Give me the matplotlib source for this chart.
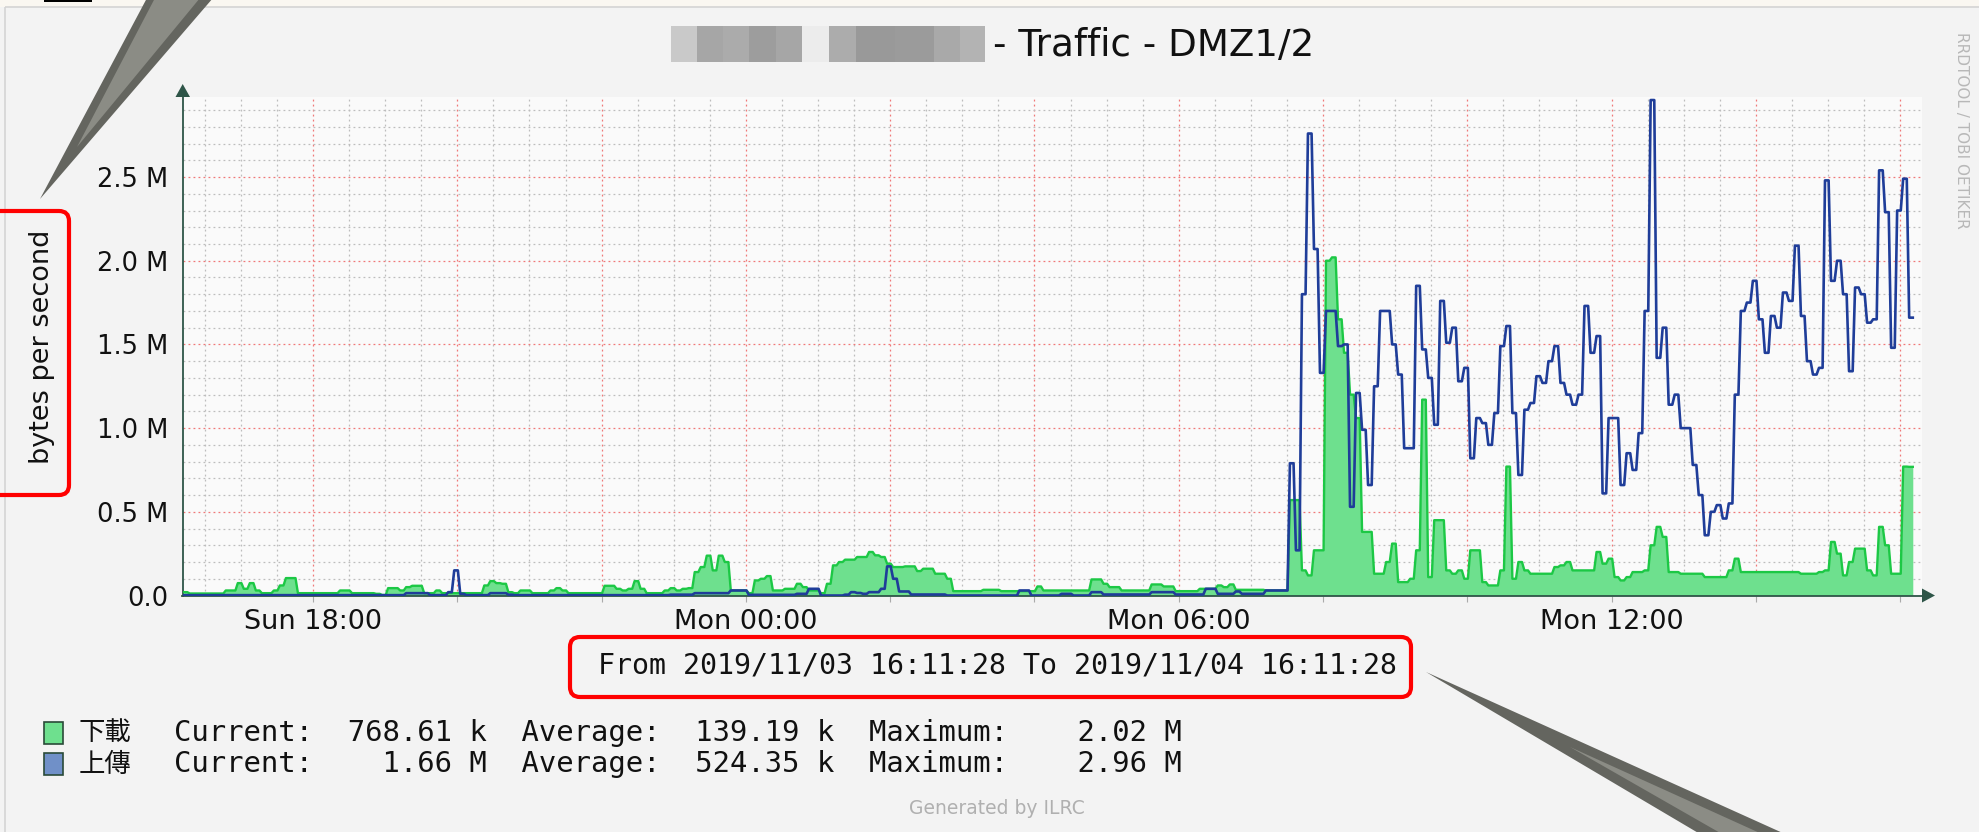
import numpy as np
import matplotlib
matplotlib.use('Agg')
import matplotlib.pyplot as plt
import matplotlib.dates as mdates
from matplotlib.ticker import MultipleLocator, FuncFormatter
from matplotlib.patches import Rectangle, Polygon, FancyBboxPatch

W, H = 1979, 832

# 5 minute samples, 2019/11/03 16:11:28 -> 2019/11/04 16:11:28, in kB/s
start = np.datetime64('2019-11-03T16:11:28')
step = np.timedelta64(300, 's')

download_k = [
    20, 12, 12, 12, 12, 12, 12, 30, 30, 74, 40, 74,
    30, 14, 14, 30, 60, 104, 104, 14, 14, 14, 14, 14,
    14, 14, 30, 30, 14, 14, 14, 14, 10, 3, 44, 44,
    30, 50, 58, 58, 14, 14, 30, 14, 14, 14, 14, 14,
    14, 14, 60, 86, 74, 70, 20, 14, 30, 30, 14, 14,
    14, 30, 44, 30, 14, 14, 14, 14, 14, 14, 58, 58,
    40, 30, 40, 86, 40, 14, 14, 14, 30, 44, 30, 40,
    44, 140, 170, 238, 150, 238, 200, 30, 30, 30, 14, 90,
    100, 116, 30, 30, 40, 40, 70, 50, 30, 30, 14, 70,
    180, 200, 214, 214, 230, 230, 260, 240, 230, 190, 170, 170,
    174, 174, 146, 160, 160, 130, 130, 100, 26, 26, 26, 26,
    26, 34, 34, 34, 26, 26, 26, 26, 26, 26, 54, 30,
    30, 30, 30, 30, 30, 30, 30, 96, 96, 70, 50, 50,
    30, 30, 30, 30, 30, 66, 66, 54, 54, 26, 26, 26,
    26, 40, 40, 40, 60, 50, 66, 34, 34, 34, 34, 34,
    30, 30, 30, 30, 570, 570, 150, 120, 270, 270, 2000, 2020,
    1650, 1450, 1200, 1060, 380, 380, 130, 130, 200, 310, 80, 80,
    100, 270, 1170, 110, 450, 450, 150, 130, 150, 100, 270, 270,
    80, 60, 60, 150, 770, 100, 200, 150, 130, 130, 130, 130,
    170, 180, 200, 150, 150, 150, 150, 260, 190, 220, 110, 90,
    110, 140, 140, 150, 300, 410, 350, 140, 140, 130, 130, 130,
    130, 110, 110, 110, 110, 150, 220, 140, 140, 140, 140, 140,
    140, 140, 140, 140, 140, 130, 130, 130, 140, 150, 320, 250,
    120, 200, 280, 280, 150, 120, 410, 300, 130, 130, 770, 768.61,
]
upload_k = [
    2, 2, 2, 2, 2, 2, 2, 2, 2, 2, 2, 2,
    2, 2, 2, 2, 2, 2, 2, 2, 2, 2, 2, 2,
    2, 2, 2, 2, 2, 2, 2, 2, 2, 2, 2, 2,
    2, 14, 14, 14, 14, 2, 2, 2, 20, 150, 10, 2,
    2, 2, 2, 14, 14, 14, 5, 2, 2, 2, 2, 2,
    2, 2, 2, 2, 2, 2, 2, 2, 2, 2, 2, 2,
    2, 2, 2, 2, 2, 2, 2, 2, 2, 5, 5, 5,
    5, 14, 14, 14, 14, 14, 14, 30, 30, 30, 4, 4,
    4, 4, 4, 4, 4, 4, 10, 10, 40, 40, 0, 0,
    0, 0, 5, 20, 15, 10, 20, 20, 40, 174, 100, 24,
    24, 6, 6, 6, 6, 6, 6, 0, 0, 0, 0, 0,
    0, 0, 0, 0, 0, 0, 0, 30, 30, 0, 0, 0,
    0, 0, 10, 10, 0, 0, 0, 20, 20, 6, 6, 6,
    6, 6, 6, 6, 6, 20, 20, 20, 20, 6, 6, 6,
    6, 6, 40, 40, 10, 10, 10, 24, 10, 10, 10, 10,
    30, 30, 30, 30, 790, 270, 1800, 2760, 2070, 1330, 1700, 1700,
    1490, 1500, 530, 1210, 990, 660, 1250, 1700, 1700, 1500, 1320, 880,
    880, 1850, 1470, 1300, 1020, 1760, 1510, 1600, 1280, 1360, 820, 1060,
    1030, 900, 1090, 1490, 1610, 1090, 720, 1110, 1150, 1310, 1270, 1400,
    1490, 1270, 1200, 1140, 1200, 1730, 1450, 1550, 610, 1060, 1060, 660,
    850, 750, 970, 1700, 2960, 1420, 1600, 1140, 1200, 1000, 1000, 780,
    600, 360, 500, 540, 460, 550, 1200, 1700, 1750, 1880, 1650, 1450,
    1670, 1600, 1810, 1760, 2090, 1670, 1400, 1320, 1360, 2480, 1880, 2000,
    1800, 1340, 1840, 1800, 1630, 1650, 2540, 2290, 1480, 2300, 2490, 1660,
]

title = '- Traffic - DMZ1/2'
ylabel = 'bytes per second'
period = 'From 2019/11/03 16:11:28 To 2019/11/04 16:11:28'
legend_names = ['下載', '上傳']
legend_stats = ['Current:  768.61 k  Average:  139.19 k  Maximum:    2.02 M',
                'Current:    1.66 M  Average:  524.35 k  Maximum:    2.96 M']
legend_fill = ['#6ee08e', '#7090c8']
credit = 'RRDTOOL / TOBI OETIKER'
footer = 'Generated by ILRC'

down = np.array(download_k) * 1000.0
up = np.array(upload_k) * 1000.0
# each 5 min sample is drawn as a short flat segment, like rrdtool does
bins = start + step * np.arange(len(down))
seg = np.array([np.timedelta64(60, 's'), np.timedelta64(240, 's')])
times = (bins[:, None] + seg[None, :]).ravel()
down2 = np.repeat(down, 2)
up2 = np.repeat(up, 2)

fig = plt.figure(figsize=(W / 100, H / 100), dpi=100)
fig.patch.set_facecolor('#f3f3f3')

# plot area in pixel positions of the reference
x0, x1, ytop, ybot = 182.5, 1922, 96.7, 595.5
ax = fig.add_axes([x0 / W, 1 - ybot / H, (x1 - x0) / W, (ybot - ytop) / H])
ax.set_facecolor('#fafafa')

ax.fill_between(times, 0, down2, color='#6ee08e', lw=0, zorder=2)
ax.plot(times, down2, color='#1cc845', lw=1.7, zorder=3)
ax.plot(times, up2, color='#1f3d99', lw=1.9, zorder=4)

ax.set_xlim(start, start + np.timedelta64(86400 + 400, 's'))
ax.set_ylim(0, 2.98e6)

ax.xaxis.set_major_locator(mdates.HourLocator(byhour=range(0, 24, 2)))
ax.xaxis.set_minor_locator(mdates.MinuteLocator(byminute=[0, 30]))

def xfmt(x, pos):
    d = mdates.num2date(x)
    return d.strftime('%a %H:%M') if d.hour % 6 == 0 else ''

ax.xaxis.set_major_formatter(FuncFormatter(xfmt))
ax.yaxis.set_major_locator(MultipleLocator(0.5e6))
ax.yaxis.set_minor_locator(MultipleLocator(0.1e6))
ax.yaxis.set_major_formatter(FuncFormatter(
    lambda v, p: '0.0' if v == 0 else '%.1f M' % (v / 1e6)))

ax.set_axisbelow(True)
ax.grid(which='major', color='#f07878', linestyle=(0, (1.5, 2.5)), lw=0.9)
ax.grid(which='minor', color='#bdbdbd', linestyle=(0, (1.5, 2.5)), lw=0.9)

ax.tick_params(axis='x', which='major', length=4, color='#aaaaaa',
               labelsize=19.5, pad=6, labelcolor='#111111')
ax.tick_params(axis='x', which='minor', length=0)
ax.tick_params(axis='y', which='both', length=0, labelsize=18.5, pad=10,
               labelcolor='#111111')
for s in ['top', 'right']:
    ax.spines[s].set_visible(False)
for s in ['left', 'bottom']:
    ax.spines[s].set_color('#2e5548')
    ax.spines[s].set_linewidth(1.3)

# overlay in pixel coordinates, origin at top-left
ov = fig.add_axes([0, 0, 1, 1], zorder=5)
ov.set_xlim(0, W)
ov.set_ylim(H, 0)
ov.axis('off')
ov.set_facecolor('none')

ov.add_patch(Rectangle((0, 0), W, 7, color='#faf7f1', lw=0))
ov.add_patch(Rectangle((5, 7), W, H, fill=False, edgecolor='#d4d4d4', lw=1.2))
ov.add_patch(Rectangle((44, 0), 48, 1.5, color='black', lw=0))

# axis arrows
ov.add_patch(Polygon([(175.5, 97), (190, 97), (182.7, 84)], color='#2e5548', lw=0))
ov.add_patch(Polygon([(1922, 588.5), (1922, 602.5), (1935, 595.5)], color='#2e5548', lw=0))

# blurred host name in the title
blocks = [(671, 697, '#c9c9c9'), (697, 723, '#a6a6a6'), (723, 749, '#ababab'),
          (749, 776, '#9d9d9d'), (776, 802, '#a6a6a6'), (802, 829, '#ececec'),
          (829, 856, '#acacac'), (856, 895, '#999999'), (895, 934, '#9b9b9b'),
          (934, 960, '#a9a9a9'), (960, 985, '#b3b3b3')]
for a, b, c in blocks:
    ov.add_patch(Rectangle((a, 26), b - a, 36, color=c, lw=0))
ov.text(993, 46, title, fontsize=26.8, color='#111111', ha='left', va='center')

ov.text(1962, 32, credit, fontsize=11, color='#b8b8b8', rotation=270,
        ha='center', va='top')
ov.text(42, 347, ylabel, fontsize=19.5, color='#111111', rotation=90,
        ha='center', va='center')

ov.text(997, 666, period, fontsize=20.3, family='DejaVu Sans Mono',
        color='#111111', ha='center', va='center')

rows_y = [733, 764]
for i in range(2):
    yy = rows_y[i]
    ov.add_patch(Rectangle((44, yy - 11), 19, 22, facecolor=legend_fill[i],
                           edgecolor='#2a4a38', lw=1.2))
    ov.text(79, yy, legend_names[i], fontsize=19,
            family=['Noto Sans CJK TC', 'DejaVu Sans'],
            color='#111111', ha='left', va='center')
    ov.text(174, yy, legend_stats[i], fontsize=20.8, family='DejaVu Sans Mono',
            color='#111111', ha='left', va='center')

ov.text(997, 808, footer, fontsize=13.5, color='#b0b0b0', ha='center', va='center')

# red highlight boxes
ov.add_patch(FancyBboxPatch((-12, 211), 81, 284, boxstyle='round,pad=0,rounding_size=10',
                            fill=False, edgecolor='#ff0000', lw=3))
ov.add_patch(FancyBboxPatch((570, 637), 841, 60, boxstyle='round,pad=0,rounding_size=10',
                            fill=False, edgecolor='#ff0000', lw=3))

# gray callout wedges
ov.add_patch(Polygon([(40, 199), (147, -2), (213, -2)], color='#64655f', lw=0))
ov.add_patch(Polygon([(77, 147), (155, -2), (200, -2)], color='#8b8c85', lw=0))
ov.add_patch(Polygon([(1426, 672), (1700, 834), (1785, 834)], color='#64655f', lw=0))
ov.add_patch(Polygon([(1570, 747), (1722, 834), (1762, 834)], color='#8b8c85', lw=0))

fig.savefig('out.png', dpi=100, facecolor=fig.get_facecolor())
